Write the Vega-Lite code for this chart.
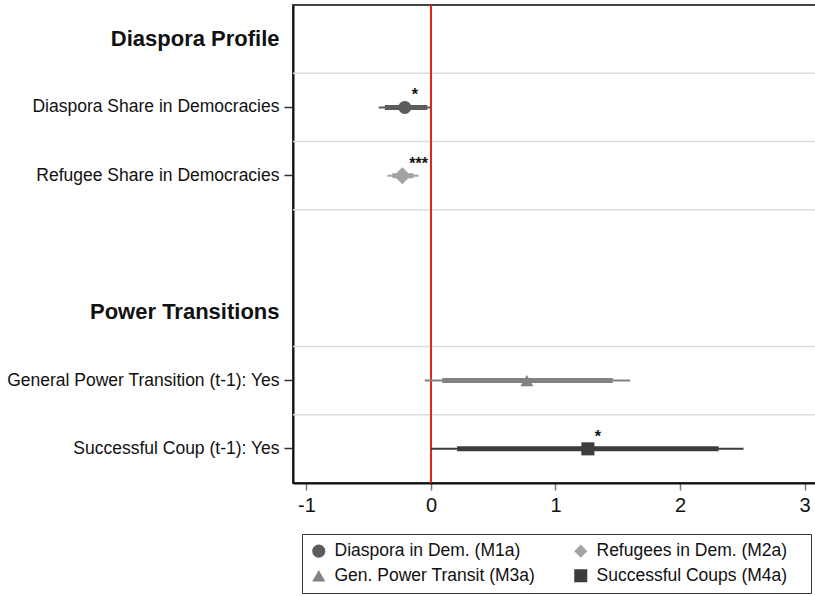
{
  "$schema": "https://vega.github.io/schema/vega-lite/v6.json",
  "autosize": {"type": "none"},
  "padding": {"left": 293, "top": 5, "right": 0, "bottom": 113},
  "width": 524,
  "height": 478,
  "background": "white",
  "config": {
    "font": "Liberation Sans",
    "view": {"stroke": "#444444", "strokeWidth": 2}
  },
  "datasets": {
    "coefs": [
      {"var": "Diaspora Share in Democracies", "model": "Diaspora in Dem. (M1a)", "est": -0.21, "lo95": -0.42, "hi95": 0.0, "lo90": -0.37, "hi90": -0.03, "stars": "*"},
      {"var": "Refugee Share in Democracies", "model": "Refugees in Dem. (M2a)", "est": -0.23, "lo95": -0.35, "hi95": -0.10, "lo90": -0.31, "hi90": -0.14, "stars": "***"},
      {"var": "General Power Transition (t-1): Yes", "model": "Gen. Power Transit (M3a)", "est": 0.77, "lo95": -0.05, "hi95": 1.60, "lo90": 0.09, "hi90": 1.46, "stars": ""},
      {"var": "Successful Coup (t-1): Yes", "model": "Successful Coups (M4a)", "est": 1.26, "lo95": 0.0, "hi95": 2.51, "lo90": 0.21, "hi90": 2.31, "stars": "*"}
    ],
    "grid": [
      {"var": "Diaspora Share in Democracies"},
      {"var": "Refugee Share in Democracies"},
      {"var": "blank"},
      {"var": "General Power Transition (t-1): Yes"},
      {"var": "Successful Coup (t-1): Yes"}
    ],
    "zero": [{"x": 0}]
  },
  "encoding": {
    "y": {
      "field": "var",
      "type": "nominal",
      "title": null,
      "scale": {
        "domain": ["Diaspora Profile", "Diaspora Share in Democracies", "Refugee Share in Democracies", "blank", "Power Transitions", "General Power Transition (t-1): Yes", "Successful Coup (t-1): Yes"],
        "paddingInner": 0,
        "paddingOuter": 0
      },
      "axis": {
        "labelExpr": "datum.value == 'blank' ? '' : datum.value",
        "labelFontSize": {"condition": {"test": "datum.value == 'Diaspora Profile' || datum.value == 'Power Transitions'", "value": 22}, "value": 17.5},
        "labelFontWeight": {"condition": {"test": "datum.value == 'Diaspora Profile' || datum.value == 'Power Transitions'", "value": "bold"}, "value": "normal"},
        "tickOpacity": {"condition": {"test": "datum.value == 'Diaspora Profile' || datum.value == 'Power Transitions' || datum.value == 'blank'", "value": 0}, "value": 1},
        "labelColor": "#111111",
        "labelLimit": 400,
        "labelPadding": 5,
        "tickSize": 9,
        "tickColor": "#333333",
        "tickWidth": 1.5,
        "domainColor": "#111111",
        "domainWidth": 2,
        "grid": false
      }
    }
  },
  "layer": [
    {
      "data": {"name": "grid"},
      "mark": {"type": "rule", "color": "#dddddd", "strokeWidth": 1.5},
      "encoding": {"y": {"field": "var", "type": "nominal", "bandPosition": 0}}
    },
    {
      "data": {"name": "zero"},
      "mark": {"type": "rule", "color": "#e32219", "strokeWidth": 2},
      "encoding": {
        "x": {
          "field": "x",
          "type": "quantitative",
          "scale": {"domain": [-1.108, 3.1], "nice": false, "zero": false},
          "title": null,
          "axis": {
            "values": [-1, 0, 1, 2, 3],
            "labelExpr": "toString(datum.value)",
            "labelFontSize": 20,
            "labelColor": "#111111",
            "labelPadding": 5,
            "tickSize": 7,
            "tickColor": "#777777",
            "tickWidth": 1.5,
            "domainColor": "#111111",
            "domainWidth": 2,
            "grid": false
          }
        },
        "y": null
      }
    },
    {
      "data": {"name": "coefs"},
      "mark": {"type": "rule", "strokeWidth": 2},
      "encoding": {
        "x": {"field": "lo95", "type": "quantitative"},
        "x2": {"field": "hi95"},
        "stroke": {
          "field": "model",
          "type": "nominal",
          "legend": null,
          "scale": {
            "domain": ["Successful Coups (M4a)", "Gen. Power Transit (M3a)", "Refugees in Dem. (M2a)", "Diaspora in Dem. (M1a)"],
            "range": ["#3d3d3d", "#828282", "#a3a3a3", "#5c5c5c"]
          }
        }
      }
    },
    {
      "data": {"name": "coefs"},
      "mark": {"type": "rule", "strokeWidth": 5},
      "encoding": {
        "x": {"field": "lo90", "type": "quantitative"},
        "x2": {"field": "hi90"},
        "stroke": {"field": "model", "type": "nominal", "legend": null}
      }
    },
    {
      "data": {"name": "coefs"},
      "transform": [{"filter": "datum.model != 'Refugees in Dem. (M2a)'"}],
      "mark": {"type": "point", "filled": true, "opacity": 1, "size": 170},
      "encoding": {
        "x": {"field": "est", "type": "quantitative"},
        "color": {
          "field": "model",
          "type": "nominal",
          "scale": {
            "domain": ["Diaspora in Dem. (M1a)", "Gen. Power Transit (M3a)", "Refugees in Dem. (M2a)", "Successful Coups (M4a)"],
            "range": ["#5c5c5c", "#828282", "#a3a3a3", "#3d3d3d"]
          },
          "legend": {
            "title": " ",
            "titleOrient": "right",
            "titlePadding": 16,
            "titleFontSize": 12,
            "orient": "none",
            "legendX": 9,
            "legendY": 529,
            "columns": 2,
            "columnPadding": 36,
            "rowPadding": 6,
            "padding": 8,
            "strokeColor": "#333333",
            "labelFontSize": 17.5,
            "labelColor": "#111111",
            "labelOffset": 7,
            "labelLimit": 400,
            "symbolSize": 170,
            "symbolOpacity": 1
          }
        },
        "shape": {
          "field": "model",
          "type": "nominal",
          "title": " ",
          "scale": {
            "domain": ["Diaspora in Dem. (M1a)", "Gen. Power Transit (M3a)", "Refugees in Dem. (M2a)", "Successful Coups (M4a)"],
            "range": ["circle", "triangle-up", "diamond", "square"]
          }
        }
      }
    },
    {
      "data": {"name": "coefs"},
      "transform": [{"filter": "datum.model == 'Refugees in Dem. (M2a)'"}],
      "mark": {"type": "point", "filled": true, "opacity": 1, "size": 290},
      "encoding": {
        "x": {"field": "est", "type": "quantitative"},
        "color": {"field": "model", "type": "nominal", "title": " "},
        "shape": {"field": "model", "type": "nominal", "title": " "}
      }
    },
    {
      "data": {"name": "coefs"},
      "transform": [{"filter": "datum.stars != ''"}],
      "mark": {"type": "text", "align": "left", "baseline": "middle", "dx": 7, "dy": -12, "fontSize": 16, "fontWeight": "bold", "color": "#111111"},
      "encoding": {
        "x": {"field": "est", "type": "quantitative"},
        "text": {"field": "stars"}
      }
    }
  ]
}
